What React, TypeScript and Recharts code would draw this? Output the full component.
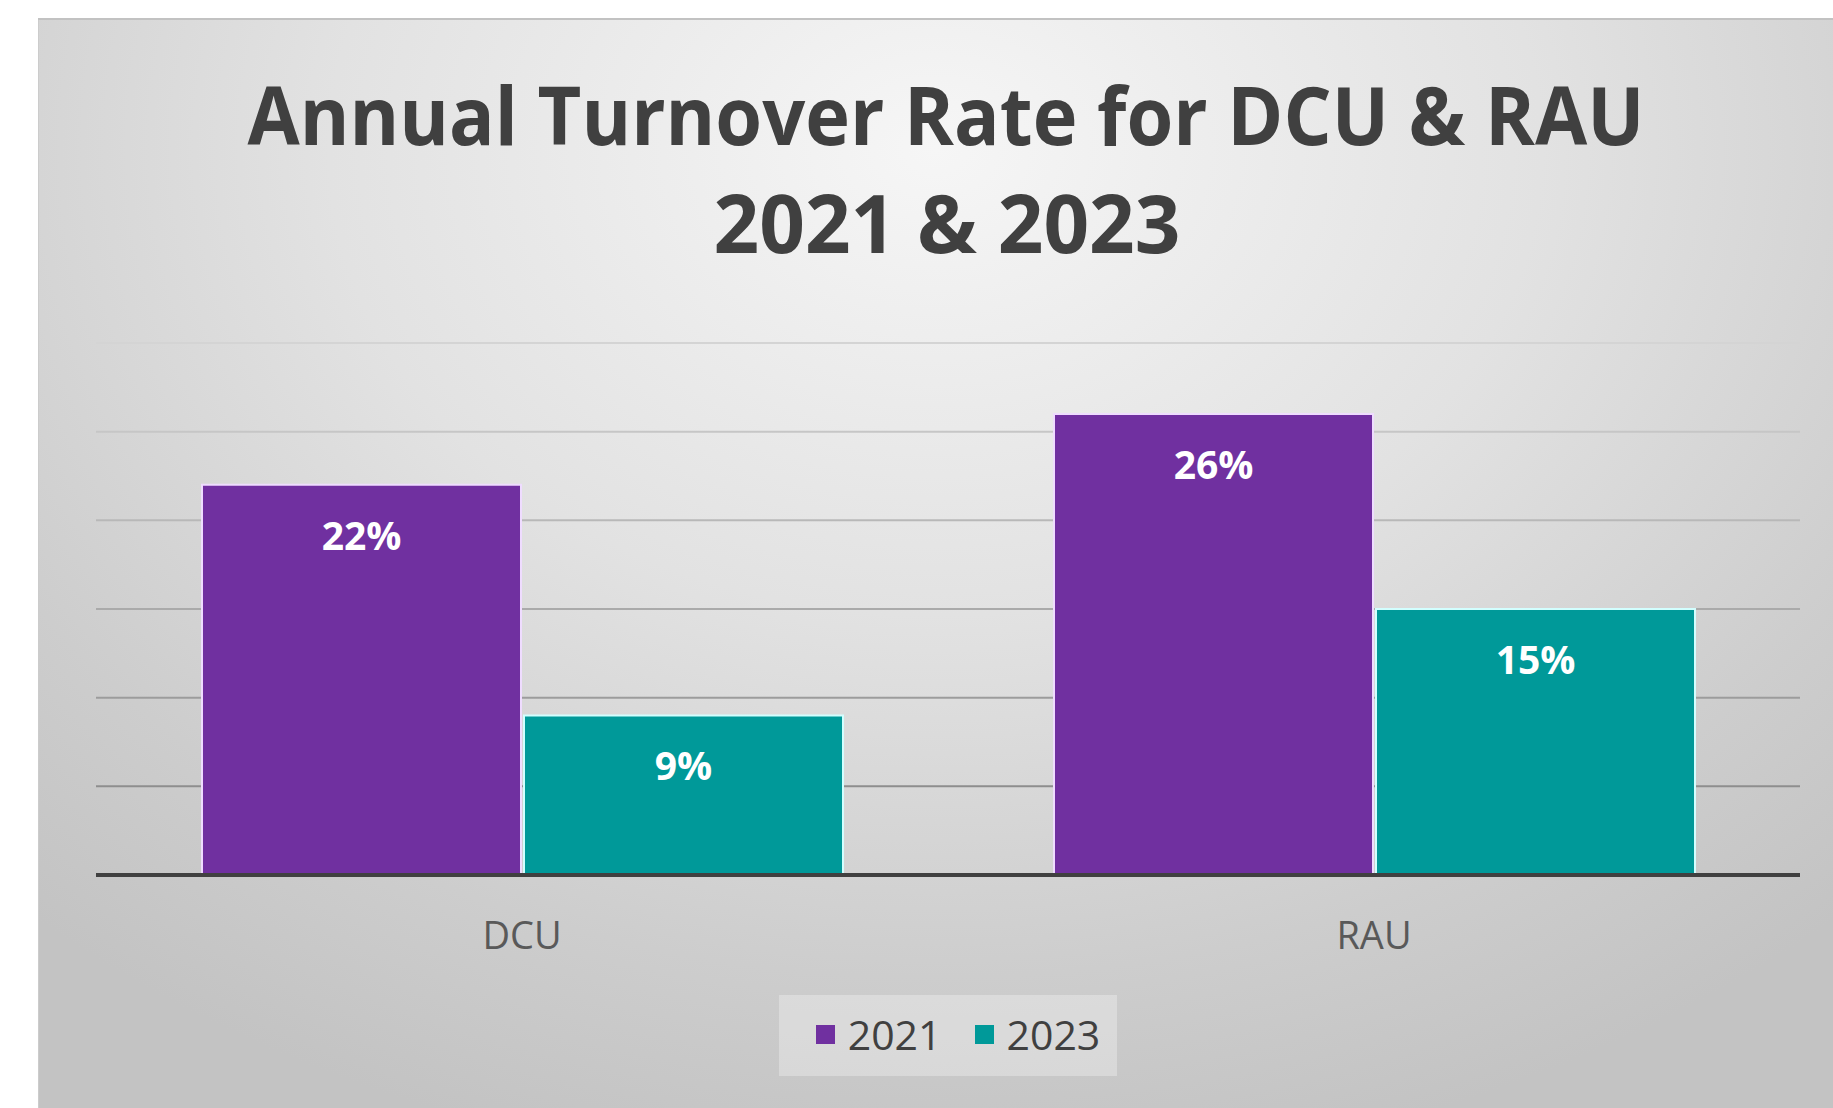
import { BarChart, Bar, XAxis, YAxis, CartesianGrid, Legend, LabelList } from 'recharts';

const categories = ['DCU', 'RAU'];
const values2021 = [22, 26];
const values2023 = [9, 15];
const yTicks = [0, 5, 10, 15, 20, 25, 30];
const seriesNames = ['2021', '2023'];
const seriesColors = ['#7030A0', '#009999'];
const seriesStrokes = ['#efdcff', '#d2ffff'];

const data = categories.map((name, i) => ({
  name,
  y2021: values2021[i],
  y2023: values2023[i],
}));

const W = 1795;
const H = 1090;
const MARGIN = { top: 325, right: 33, bottom: 32, left: 58 };
const PLOT_TOP = MARGIN.top;
const PLOT_BOTTOM = 857;
const FONT = '"Open Sans", sans-serif';

// gridlines fade from light (top) to darker (bottom)
const GridLine = (props: any) => {
  const { x1, x2, y1, y2 } = props;
  const t = Math.max(0, Math.min(1, (y1 - PLOT_TOP) / (PLOT_BOTTOM - PLOT_TOP)));
  const g = Math.round(0xd4 + (0x80 - 0xd4) * t);
  return <line key={props.key} x1={x1} x2={x2} y1={y1} y2={y2} stroke={`rgb(${g},${g},${g})`} strokeWidth={2} />;
};

const CatTick = ({ x, y, payload }: any) => (
  <text x={x} y={y} dy={74} textAnchor="middle" fill="#595959" fontFamily={FONT} fontSize={38}>
    {payload.value}
  </text>
);

const ValueLabel = ({ x, y, width, value }: any) => (
  <text x={x + width / 2} y={y + 65} textAnchor="middle" fill="#ffffff" fontFamily={FONT} fontWeight={700} fontSize={39}>
    {value}%
  </text>
);

const LegendBox = () => (
  <div style={{ display: 'flex', justifyContent: 'center' }}>
    <div
      style={{
        width: 338,
        height: 81,
        boxSizing: 'border-box',
        paddingLeft: 20,
        paddingBottom: 3,
        background: 'rgba(255,255,255,0.3)',
        display: 'flex',
        alignItems: 'center',
        justifyContent: 'center',
        gap: 33,
        fontFamily: FONT,
        fontSize: 41,
        color: '#404040',
      }}
    >
      {seriesNames.map((n, i) => (
        <div key={n} style={{ display: 'flex', alignItems: 'center', gap: 13 }}>
          <div style={{ width: 19, height: 19, background: seriesColors[i] }} />
          <span>{n}</span>
        </div>
      ))}
    </div>
  </div>
);

export default function App() {
  return (
    <div style={{ position: 'absolute', left: 0, top: 0, width: 1833, height: 1108, background: '#ffffff', overflow: 'hidden' }}>
      <div
        style={{
          position: 'absolute',
          left: 38,
          top: 18,
          width: W,
          height: H,
          background: 'radial-gradient(ellipse 75% 95% at 50% 12%, #f6f6f6 0%, #e2e2e2 45%, #cdcdcd 80%, #c3c3c3 100%)',
          boxShadow: 'inset 0 2px 0 #c2c2c2, inset 1px 0 0 #cccccc',
        }}
      >
        <svg width={W} height={300} style={{ position: 'absolute', left: 0, top: 0 }}>
          <text
            x={908}
            y={127}
            textAnchor="middle"
            fontFamily={FONT}
            fontWeight={700}
            fontSize={81}
            fill="#404040"
            textLength={1397}
            lengthAdjust="spacingAndGlyphs"
          >
            Annual Turnover Rate for DCU &amp; RAU
          </text>
          <text
            x={909}
            y={235}
            textAnchor="middle"
            fontFamily={FONT}
            fontWeight={700}
            fontSize={81}
            fill="#404040"
            textLength={467}
            lengthAdjust="spacingAndGlyphs"
          >
            2021 &amp; 2023
          </text>
        </svg>
        <div style={{ position: 'absolute', left: 0, top: 0 }}>
          <BarChart width={W} height={H} data={data} margin={MARGIN} barCategoryGap={106} barGap={3}>
            <CartesianGrid vertical={false} horizontal={GridLine} />
            <XAxis
              dataKey="name"
              height={120}
              axisLine={{ stroke: '#404040', strokeWidth: 4 }}
              tickLine={false}
              tickSize={0}
              tickMargin={0}
              tick={<CatTick />}
            />
            <YAxis hide domain={[0, 30]} ticks={yTicks} />
            <Legend verticalAlign="bottom" height={81} content={<LegendBox />} />
            <Bar dataKey="y2021" name={seriesNames[0]} fill={seriesColors[0]} stroke={seriesStrokes[0]} strokeWidth={2} isAnimationActive={false}>
              <LabelList dataKey="y2021" content={<ValueLabel />} />
            </Bar>
            <Bar dataKey="y2023" name={seriesNames[1]} fill={seriesColors[1]} stroke={seriesStrokes[1]} strokeWidth={2} isAnimationActive={false}>
              <LabelList dataKey="y2023" content={<ValueLabel />} />
            </Bar>
          </BarChart>
        </div>
      </div>
    </div>
  );
}
